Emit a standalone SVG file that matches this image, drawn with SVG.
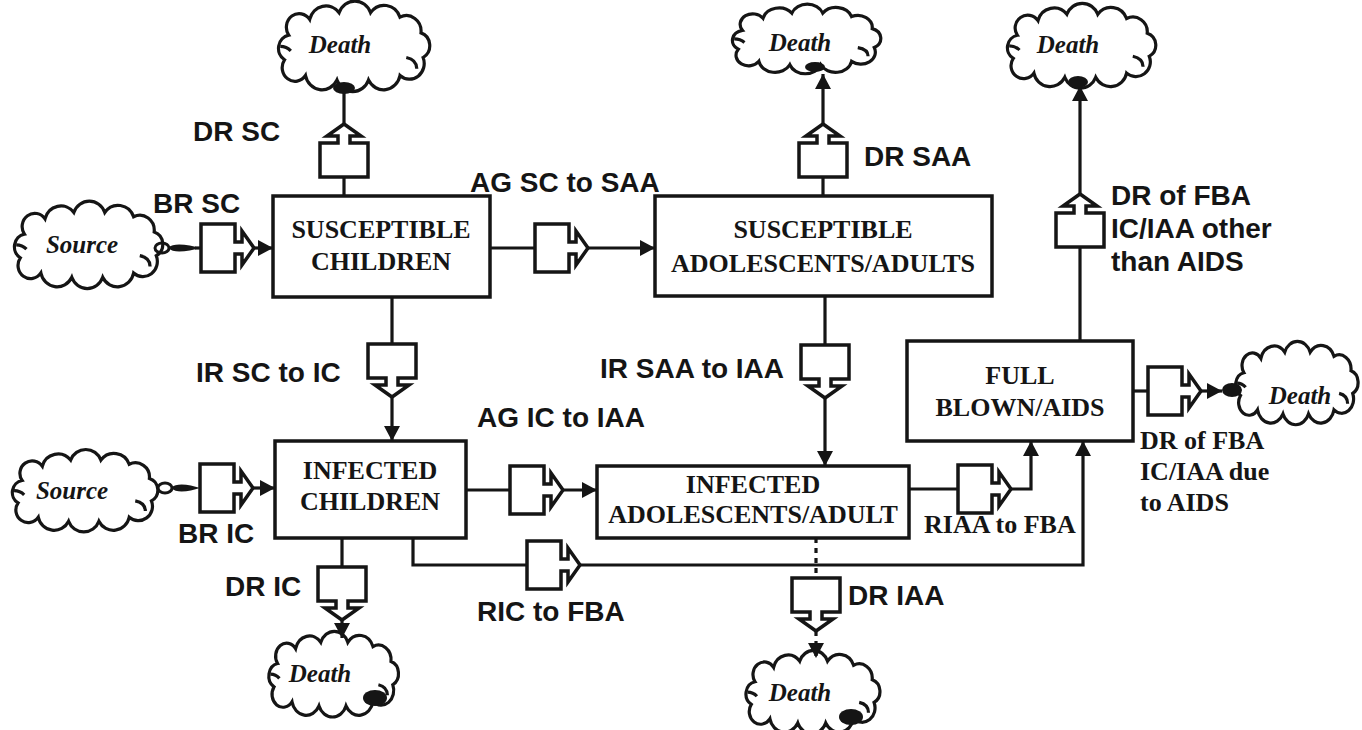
<svg xmlns="http://www.w3.org/2000/svg" xmlns:xlink="http://www.w3.org/1999/xlink" width="1362" height="730" viewBox="0 0 1362 730">
<style>
.box{fill:#fff;stroke:#151515;stroke-width:3.5}
.bt{font-family:"Liberation Serif","Times New Roman",serif;font-weight:bold;font-size:26px;fill:#151515;text-anchor:middle}
.lb{font-family:"Liberation Sans",Arial,sans-serif;font-weight:bold;font-size:28px;fill:#151515}
.ls{font-family:"Liberation Serif","Times New Roman",serif;font-weight:bold;font-size:26px;fill:#151515}
.ct{font-family:"Liberation Serif","Times New Roman",serif;font-weight:bold;font-style:italic;font-size:25px;fill:#151515;text-anchor:middle}
.fl{fill:none;stroke:#151515;stroke-width:3.2}
.dot{stroke-dasharray:5 5}
.blob{fill:#151515}
</style>
<defs>
<marker id="ah" markerUnits="userSpaceOnUse" markerWidth="18" markerHeight="18" refX="15" refY="8" orient="auto">
<path d="M0,0 L15,8 L0,16 Z" fill="#151515"/>
</marker>
<path id="valve" d="M0,-24 H34 V-6 H41 V-17 L53,0 L41,17 V6 H34 V24 H0 Z" fill="#fff" stroke="#151515" stroke-width="3.5"/>
<g id="cloud">
<path vector-effect="non-scaling-stroke" d="M14,26 A12,12 0 0 1 34,12 A16,16 0 0 1 62,6 A16,16 0 0 1 92,6 A16,16 0 0 1 120,10 A14,14 0 0 1 140,24 A12,12 0 0 1 142,46 A14,14 0 0 1 120,62 A16,16 0 0 1 90,66 A16,16 0 0 1 60,66 A16,16 0 0 1 30,62 A12,12 0 0 1 10,48 A12,12 0 0 1 14,26 Z" fill="#fff" stroke="#151515" stroke-width="3.2"/>
<path vector-effect="non-scaling-stroke" d="M6,36 Q12,36 16,40 M126,46 Q136,48 136,56" fill="none" stroke="#151515" stroke-width="3.2"/>
</g>
</defs>

<g id="clouds">
<g id="source1"><use href="#cloud" transform="translate(10,206) scale(1.03,1.08)"/><text class="ct" x="82" y="253">Source</text></g>
<g id="source2"><use href="#cloud" transform="translate(8,454) scale(1.01,1.02)"/><text class="ct" x="72" y="499">Source</text></g>
<g id="death1"><use href="#cloud" transform="translate(274,6) scale(1.05,1.12)"/><text class="ct" x="340" y="53">Death</text></g>
<g id="death2"><use href="#cloud" transform="translate(728,8) scale(1.03,0.86)"/><text class="ct" x="800" y="51">Death</text></g>
<g id="death3"><use href="#cloud" transform="translate(1003,8) scale(1.03,1.05)"/><text class="ct" x="1068" y="53">Death</text></g>
<g id="death4"><use href="#cloud" transform="translate(1232,346) scale(0.85,1.03)"/><text class="ct" x="1300" y="404">Death</text></g>
<g id="death5"><use href="#cloud" transform="translate(265,636) scale(0.9,1.06)"/><text class="ct" x="320" y="682">Death</text></g>
<g id="death6"><use href="#cloud" transform="translate(742,655) scale(0.93,1.03)"/><text class="ct" x="800" y="701">Death</text></g>
</g>

<g id="boxes">
<g id="sc"><rect class="box" x="273" y="196" width="217" height="101"/><text class="bt" x="381" y="238">SUSCEPTIBLE</text><text class="bt" x="381" y="270">CHILDREN</text></g>
<g id="saa"><rect class="box" x="655" y="196" width="337" height="100"/><text class="bt" x="823" y="238">SUSCEPTIBLE</text><text class="bt" x="823" y="272">ADOLESCENTS/ADULTS</text></g>
<g id="fba"><rect class="box" x="907" y="341" width="226" height="100"/><text class="bt" x="1020" y="384">FULL</text><text class="bt" x="1020" y="416">BLOWN/AIDS</text></g>
<g id="ic"><rect class="box" x="275" y="441" width="191" height="97"/><text class="bt" x="370" y="479">INFECTED</text><text class="bt" x="370" y="510">CHILDREN</text></g>
<g id="iaa"><rect class="box" x="597" y="466" width="312" height="72"/><text class="bt" x="753" y="493">INFECTED</text><text class="bt" x="753" y="523">ADOLESCENTS/ADULT</text></g>
</g>

<g id="connectors">
<ellipse cx="162" cy="248" rx="7" ry="5" fill="none" stroke="#151515" stroke-width="3"/>
<path class="blob" d="M168,248 C174,242 188,245 201,248 C188,251 174,254 168,248 Z"/>
<line class="fl" x1="195" y1="248" x2="201" y2="248"/>
<line class="fl" x1="254" y1="248" x2="273" y2="248" marker-end="url(#ah)"/>
<line class="fl" x1="490" y1="248" x2="535" y2="248"/>
<line class="fl" x1="588" y1="248" x2="655" y2="248" marker-end="url(#ah)"/>
<line class="fl" x1="344" y1="196" x2="344" y2="177"/>
<line class="fl" x1="344" y1="124" x2="344" y2="90"/>
<ellipse class="blob" cx="344" cy="88" rx="11" ry="6"/>
<line class="fl" x1="823" y1="196" x2="823" y2="177"/>
<line class="fl" x1="823" y1="124" x2="823" y2="74" marker-end="url(#ah)"/>
<ellipse class="blob" cx="815" cy="67" rx="10" ry="5"/>
<line class="fl" x1="1080" y1="341" x2="1080" y2="247"/>
<line class="fl" x1="1080" y1="194" x2="1080" y2="86" marker-end="url(#ah)"/>
<ellipse class="blob" cx="1078" cy="82" rx="10" ry="6"/>
<line class="fl" x1="392" y1="297" x2="392" y2="344"/>
<line class="fl" x1="392" y1="397" x2="392" y2="441" marker-end="url(#ah)"/>
<line class="fl" x1="825" y1="296" x2="825" y2="345"/>
<line class="fl" x1="825" y1="398" x2="825" y2="466" marker-end="url(#ah)"/>
<ellipse cx="165" cy="488" rx="7" ry="5" fill="none" stroke="#151515" stroke-width="3"/>
<path class="blob" d="M171,488 C177,482 190,485 200,488 C190,491 177,494 171,488 Z"/>
<line class="fl" x1="253" y1="488" x2="275" y2="488" marker-end="url(#ah)"/>
<line class="fl" x1="466" y1="490" x2="510" y2="490"/>
<line class="fl" x1="563" y1="490" x2="597" y2="490" marker-end="url(#ah)"/>
<line class="fl" x1="909" y1="489" x2="958" y2="489"/>
<polyline class="fl" points="1011,489 1031,489 1031,441" marker-end="url(#ah)"/>
<polyline class="fl" points="413,538 413,565 527,565"/>
<polyline class="fl" points="580,565 1083,565 1083,441" marker-end="url(#ah)"/>
<line class="fl" x1="342" y1="538" x2="342" y2="567"/>
<line class="fl" x1="342" y1="620" x2="342" y2="638" marker-end="url(#ah)"/>
<ellipse class="blob" cx="375" cy="698" rx="12" ry="8"/>
<line class="fl dot" x1="816" y1="538" x2="816" y2="578"/>
<line class="fl dot" x1="816" y1="631" x2="816" y2="658" marker-end="url(#ah)"/>
<ellipse class="blob" cx="851" cy="717" rx="12" ry="8"/>
<line class="fl" x1="1133" y1="391" x2="1148" y2="391"/>
<line class="fl" x1="1201" y1="391" x2="1222" y2="391" marker-end="url(#ah)"/>
<ellipse class="blob" cx="1232" cy="390" rx="10" ry="7"/>
</g>

<g id="valves">
<use href="#valve" transform="translate(201,248)"/>
<use href="#valve" transform="translate(535,248)"/>
<use href="#valve" transform="translate(344,177) rotate(-90)"/>
<use href="#valve" transform="translate(823,177) rotate(-90)"/>
<use href="#valve" transform="translate(1080,247) rotate(-90)"/>
<use href="#valve" transform="translate(392,344) rotate(90)"/>
<use href="#valve" transform="translate(825,345) rotate(90)"/>
<use href="#valve" transform="translate(200,488)"/>
<use href="#valve" transform="translate(510,490)"/>
<use href="#valve" transform="translate(958,489)"/>
<use href="#valve" transform="translate(527,565)"/>
<use href="#valve" transform="translate(342,567) rotate(90)"/>
<use href="#valve" transform="translate(816,578) rotate(90)"/>
<use href="#valve" transform="translate(1148,391)"/>
</g>

<g id="labels">
<text class="lb" x="153" y="213">BR SC</text>
<text class="lb" x="193" y="141">DR SC</text>
<text class="lb" x="470" y="192">AG SC to SAA</text>
<text class="lb" x="864" y="166">DR SAA</text>
<text class="lb" x="1111" y="205">DR of FBA</text>
<text class="lb" x="1111" y="238">IC/IAA other</text>
<text class="lb" x="1111" y="271">than AIDS</text>
<text class="lb" x="196" y="382">IR SC to IC</text>
<text class="lb" x="600" y="378">IR SAA to IAA</text>
<text class="lb" x="477" y="427">AG IC to IAA</text>
<text class="lb" x="178" y="543">BR IC</text>
<text class="lb" x="225" y="596">DR IC</text>
<text class="lb" x="477" y="621">RIC to FBA</text>
<text class="lb" x="848" y="605">DR IAA</text>
<text class="ls" x="924" y="533">RIAA to FBA</text>
<text class="ls" x="1140" y="449">DR of FBA</text>
<text class="ls" x="1140" y="480">IC/IAA due</text>
<text class="ls" x="1140" y="511">to AIDS</text>
</g>
</svg>
